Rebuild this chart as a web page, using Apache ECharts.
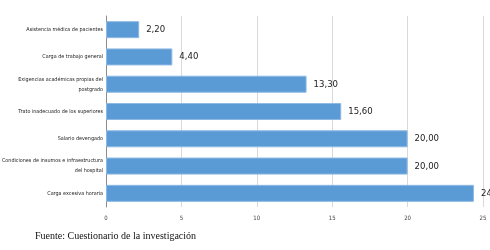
<!DOCTYPE html>
<html>
<head>
<meta charset="utf-8">
<script src="https://cdn.jsdelivr.net/npm/echarts@6/dist/echarts.min.js"></script>
<style>
  html, body { margin: 0; padding: 0; background: #fff; }
  #chart { width: 490px; height: 250px; }
</style>
</head>
<body>
<div id="chart"></div>
<script>
var categories = [
  'Asistencia médica de pacientes',
  'Carga de trabajo general',
  'Exigencias académicas propias del\npostgrado',
  'Trato inadecuado de los superiores',
  'Salario devengado',
  'Condiciones de insumos e infraestructura\ndel hospital',
  'Carga excesiva horaria'
]
var values = [2.2, 4.4, 13.3, 15.6, 20.0, 20.0, 24.4]
var x_ticks = [0, 5, 10, 15, 20, 25]
var footnote = 'Fuente: Cuestionario de la investigación'

var narrow = '"DejaVu Sans Condensed", "Liberation Sans Narrow", sans-serif'

function render_bars(chart_id){
  var chart_div = echarts.init(document.getElementById(chart_id));
  option = {
    animation: false,
    grid: {
      left: 106,
      right: 7,
      top: 16,
      bottom: 43,
      outerBoundsMode: 'none',
      containLabel: false
    },
    graphic: [
      {
        type: 'text',
        left: 35,
        top: 231,
        style: {
          text: footnote,
          font: '10px "Liberation Serif", "Times New Roman", serif',
          fill: '#111'
        }
      }
    ],
    xAxis: {
      type: 'value',
      min: x_ticks[0],
      max: x_ticks[x_ticks.length - 1],
      interval: 5,
      axisLine: {show: false},
      axisTick: {show: false},
      axisLabel: {
        fontSize: 6,
        color: '#444',
        margin: 8,
        fontFamily: narrow
      },
      splitLine: {show: true, lineStyle: {color: '#d9d9d9', width: 1}}
    },
    yAxis: {
      type: 'category',
      inverse: true,
      data: categories,
      axisLine: {show: true, lineStyle: {color: '#8c8c8c', width: 1}},
      axisTick: {show: false},
      axisLabel: {
        fontSize: 5.4,
        color: '#222',
        margin: 3,
        lineHeight: 10,
        align: 'right',
        fontFamily: narrow
      }
    },
    series: [
      {
        type: 'bar',
        data: values,
        barWidth: 17,
        itemStyle: {
          color: '#5b9bd5',
          borderColor: '#8db9e3',
          borderWidth: 1
        },
        label: {
          show: true,
          position: 'right',
          distance: 7,
          fontSize: 9.5,
          color: '#222',
          fontFamily: narrow,
          formatter: function(p){ return p.value.toFixed(2).replace('.', ','); }
        }
      }
    ]
  };
  chart_div.setOption(option);
}
render_bars('chart')
</script>
</body>
</html>
